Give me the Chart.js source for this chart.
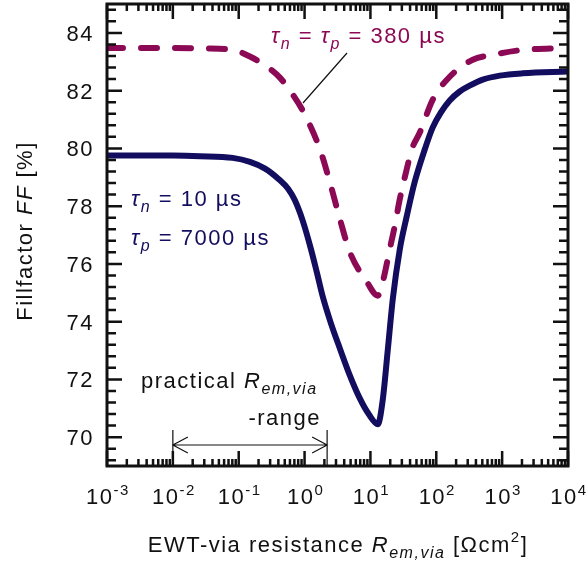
<!DOCTYPE html>
<html>
<head>
<meta charset="utf-8">
<script src="https://cdn.jsdelivr.net/npm/chart.js@4"></script>
<style>
  html, body { margin: 0; padding: 0; background: #fff; }
</style>
</head>
<body>
<canvas id="ff" width="587" height="567"></canvas>
<script>
// Datos: R_em,via en Ohm cm^2, FF en %
// tau_n = 10 us, tau_p = 7000 us (línea continua)
const rSolid = [0.001, 0.01, 0.0257, 0.081, 0.148, 0.251, 0.398, 0.562, 0.713, 0.942, 1.247, 1.538, 1.896, 2.506, 3.436,
  4.864, 6.9, 9.46, 12.95, 15.4, 18.4, 21.9, 27.9, 35.6, 47.2, 67, 88, 117, 160, 227, 320, 508, 920, 2056, 10000];
const ffSolid = [79.75, 79.75, 79.73, 79.67, 79.53, 79.3, 78.95, 78.6, 78.2, 77.48, 76.52, 75.7, 74.85, 73.95, 73.07,
  72.14, 71.34, 70.79, 70.45, 71.3, 73.05, 74.8, 76.5, 77.65, 78.85, 79.97, 80.72, 81.24, 81.66, 81.97, 82.17, 82.38, 82.52, 82.6, 82.66];

// tau_n = tau_p = 380 us (línea discontinua)
const rDashed = [0.001, 0.01, 0.03, 0.081, 0.148, 0.268, 0.422, 0.664, 1.01, 1.71, 2.42, 3.44, 4.86, 8.81, 12.9,
  15.4, 19.7, 23.4, 27.9, 35.6, 42.5, 56.2, 88.5, 160, 358, 719, 2056, 10000];
const ffDashed = [83.48, 83.48, 83.46, 83.41, 83.18, 82.83, 82.45, 81.86, 81.17, 79.97, 78.83, 77.55, 76.41, 75.38, 74.9,
  75.38, 76.52, 77.31, 78.24, 79.28, 79.97, 80.55, 81.69, 82.48, 83.07, 83.24, 83.41, 83.48];

// Etiquetas de los ejes
const yTicks = [70, 72, 74, 76, 78, 80, 82, 84];
const xTickExps = [-3, -2, -1, 0, 1, 2, 3, 4];

const FAM = '"Liberation Sans", Arial, sans-serif';
const NAVY = '#120d5e';
const WINE = '#8c0a55';

function fnt(p) {
  return (p.i ? 'italic ' : '') + (p.s || 22) + 'px ' + FAM;
}

// texto con subíndices / superíndices
function rich(ctx, parts, x, y, align) {
  let w = 0;
  parts.forEach(p => { ctx.font = fnt(p); w += ctx.measureText(p.t).width; });
  let cx = align === 'center' ? x - w / 2 : align === 'right' ? x - w : x;
  parts.forEach(p => {
    ctx.font = fnt(p);
    ctx.fillText(p.t, cx, y + (p.dy || 0));
    cx += ctx.measureText(p.t).width;
  });
}

const ejes = {
  id: 'ejes',
  afterDatasetsDraw(chart) {
    const ctx = chart.ctx;
    const a = chart.chartArea;
    const sx = chart.scales.x, sy = chart.scales.y;
    ctx.save();
    ctx.strokeStyle = '#111';
    ctx.fillStyle = '#111';
    ctx.lineWidth = 3;
    ctx.strokeRect(a.left, a.top, a.right - a.left, a.bottom - a.top);

    // marcas eje y (izquierda y derecha)
    ctx.lineWidth = 2.5;
    for (let k = 0; k <= 40; k++) {
      const v = 69.2 + k * 0.4;
      if (v > 85) break;
      const major = Math.abs(v / 2 - Math.round(v / 2)) < 0.01;
      const len = major ? 15 : 9;
      const py = sy.getPixelForValue(v);
      ctx.beginPath();
      ctx.moveTo(a.left, py); ctx.lineTo(a.left + len, py);
      ctx.moveTo(a.right, py); ctx.lineTo(a.right - len, py);
      ctx.stroke();
    }
    // marcas eje x (abajo y arriba)
    for (let d = -3; d <= 4; d++) {
      for (let m = 1; m <= 9; m++) {
        if (d === 4 && m > 1) break;
        const px = sx.getPixelForValue(m * Math.pow(10, d));
        const len = m === 1 ? 15 : 7;
        ctx.beginPath();
        ctx.moveTo(px, a.bottom); ctx.lineTo(px, a.bottom - len);
        ctx.moveTo(px, a.top); ctx.lineTo(px, a.top + len);
        ctx.stroke();
      }
    }

    ctx.letterSpacing = '1.5px';
    ctx.textBaseline = 'alphabetic';
    // etiquetas y
    yTicks.forEach(v => {
      rich(ctx, [{ t: String(v) }], 94, sy.getPixelForValue(v) + 8, 'right');
    });
    // etiquetas x
    xTickExps.forEach(e => {
      const px = sx.getPixelForValue(Math.pow(10, e));
      rich(ctx, [{ t: '10' }, { t: String(e), s: 15, dy: -9 }], px + 1, 504, 'center');
    });

    // títulos
    rich(ctx, [{ t: 'EWT-via resistance ' }, { t: 'R', i: true }, { t: 'em,via', i: true, s: 16, dy: 6 },
      { t: ' [Ωcm' }, { t: '2', s: 15, dy: -10 }, { t: ']' }], 338, 552, 'center');
    ctx.save();
    ctx.translate(32, 231);
    ctx.rotate(-Math.PI / 2);
    rich(ctx, [{ t: 'Fillfactor ' }, { t: 'FF', i: true }, { t: ' [%]' }], 0, 0, 'center');
    ctx.restore();

    // anotaciones
    ctx.fillStyle = WINE;
    rich(ctx, [{ t: 'τ', i: true }, { t: 'n', i: true, s: 16, dy: 6 }, { t: ' = ' },
      { t: 'τ', i: true }, { t: 'p', i: true, s: 16, dy: 6 }, { t: ' = 380 µs' }], 271, 43, 'left');
    ctx.fillStyle = NAVY;
    rich(ctx, [{ t: 'τ', i: true }, { t: 'n', i: true, s: 16, dy: 6 }, { t: ' = 10 µs' }], 131, 206, 'left');
    rich(ctx, [{ t: 'τ', i: true }, { t: 'p', i: true, s: 16, dy: 6 }, { t: ' = 7000 µs' }], 131, 245, 'left');
    ctx.fillStyle = '#111';
    rich(ctx, [{ t: 'practical ' }, { t: 'R', i: true }, { t: 'em,via', i: true, s: 16, dy: 6 }], 141, 388, 'left');
    rich(ctx, [{ t: '-range' }], 321, 425, 'right');

    // línea guía y flecha del rango práctico
    ctx.lineWidth = 1.2;
    ctx.beginPath();
    ctx.moveTo(347, 53); ctx.lineTo(303, 103);
    const x1 = sx.getPixelForValue(0.01), x2 = sx.getPixelForValue(2.2), ya = 445;
    ctx.moveTo(x1, ya); ctx.lineTo(x2, ya);
    ctx.moveTo(x1, 430); ctx.lineTo(x1, a.bottom);
    ctx.moveTo(x2, 430); ctx.lineTo(x2, a.bottom);
    ctx.moveTo(x1 + 15, ya - 8); ctx.lineTo(x1, ya); ctx.lineTo(x1 + 15, ya + 8);
    ctx.moveTo(x2 - 15, ya - 8); ctx.lineTo(x2, ya); ctx.lineTo(x2 - 15, ya + 8);
    ctx.stroke();
    ctx.restore();
  }
};

const ctx = document.getElementById('ff').getContext('2d');
new Chart(ctx, {
  type: 'line',
  data: {
    datasets: [{
      data: rSolid.map((r, i) => ({ x: r, y: ffSolid[i] })),
      borderColor: NAVY,
      borderWidth: 6,
      pointRadius: 0,
      cubicInterpolationMode: 'monotone'
    }, {
      data: rDashed.map((r, i) => ({ x: r, y: ffDashed[i] })),
      borderColor: WINE,
      borderWidth: 6,
      borderDash: [16, 18],
      borderCapStyle: 'round',
      pointRadius: 0,
      cubicInterpolationMode: 'monotone'
    }]
  },
  options: {
    responsive: false,
    animation: false,
    events: [],
    layout: { padding: { left: 107, right: 19, top: 4, bottom: 101 } },
    plugins: { legend: { display: false }, tooltip: { enabled: false } },
    scales: {
      x: { type: 'logarithmic', min: 0.001, max: 10000, display: false },
      y: { min: 69, max: 85, display: false }
    }
  },
  plugins: [ejes]
});
</script>
</body>
</html>
